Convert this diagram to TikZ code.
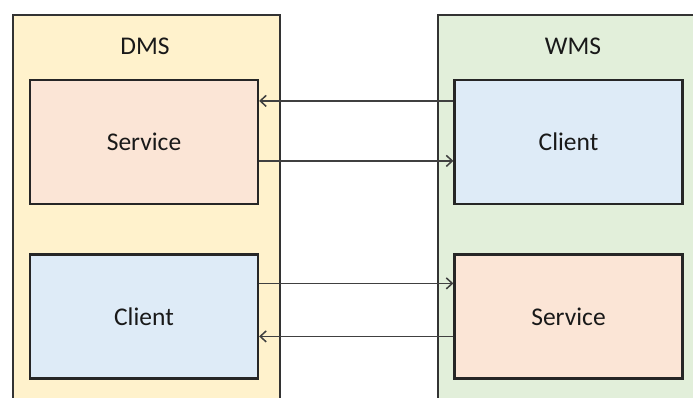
\documentclass[tikz,border=0pt]{standalone}
\usepackage{fontspec}
\setmainfont{Carlito}
\usetikzlibrary{arrows.meta, positioning, calc}
\definecolor{dmsfill}{HTML}{FFF2CC}
\definecolor{wmsfill}{HTML}{E2EFDA}
\definecolor{svcfill}{HTML}{FBE5D6}
\definecolor{clifill}{HTML}{DEEBF7}
\tikzset{
    sysbox/.style={draw=black!80, line width=2pt, minimum width=267pt, minimum height=400pt, anchor=north west},
    box/.style={draw=black!85, line width=2.2pt, minimum width=228pt, minimum height=124pt, text=black!90, font=\fontsize{25.5}{30}\selectfont},
    title/.style={text=black!90, font=\fontsize{25.5}{30}\selectfont},
    arrow/.style={-{Straight Barb[length=6pt, width=11pt, line width=1.5pt]}, line width=1.6pt, black!75}
}
\begin{document}
\begin{tikzpicture}[x=1pt, y=-1pt]
        \clip (0,0) rectangle (693,397);
        \fill [white] (0,0) rectangle (693,397);
        \node [sysbox, fill=dmsfill] (dms) at (12,14) {};
        \node [sysbox, fill=wmsfill] (wms) at (437,14) {};
        \node [title] (dmstitle) at (145,46) {DMS};
        \node [title] (wmstitle) at (573,46) {WMS};
        \node [box, fill=svcfill] (dmsservice) at (144,142) {Service};
        \node [box, fill=clifill] (dmsclient) at (144,316.5) {Client};
        \node [box, fill=clifill] (wmsclient) at (568.5,142) {Client};
        \node [box, fill=svcfill] (wmsservice) at (568.5,316.5) {Service};
        \draw [arrow] ([yshift=-22pt]wmsclient.north west) -- ([yshift=-22pt]wmsclient.north west -| dmsservice.east);
        \draw [arrow] ([yshift=-82pt]dmsservice.north east) -- ([yshift=-82pt]dmsservice.north east -| wmsclient.west);
        \draw [arrow] ([yshift=-30pt]dmsclient.north east) -- ([yshift=-30pt]dmsclient.north east -| wmsservice.west);
        \draw [arrow] ([yshift=-83pt]wmsservice.north west) -- ([yshift=-83pt]wmsservice.north west -| dmsclient.east);
    \end{tikzpicture}
\end{document}
